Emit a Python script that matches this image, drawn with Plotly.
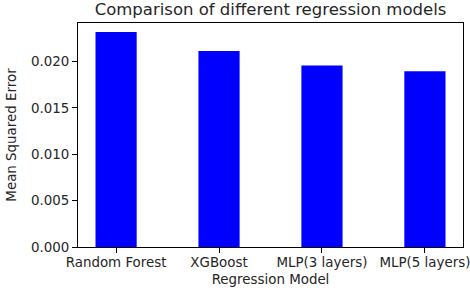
import plotly.graph_objects as go

models = ["Random Forest", "XGBoost", "MLP(3 layers)", "MLP(5 layers)"]
mse = [0.02317, 0.02112, 0.01955, 0.01893]
y_ticks = [0.000, 0.005, 0.010, 0.015, 0.020]
y_tick_labels = ["0.000", "0.005", "0.010", "0.015", "0.020"]

FONT = "DejaVu Sans"
TXT = "#262626"
TICK_SIZE = 13.4

fig = go.Figure(
    go.Bar(
        x=list(range(len(models))),
        y=mse,
        width=0.4,
        marker=dict(color="#0000ff", line=dict(width=0)),
    )
)

fig.update_layout(
    width=470,
    height=297,
    margin=dict(l=78, r=7, t=23, b=50, autoexpand=False),
    paper_bgcolor="white",
    plot_bgcolor="white",
    showlegend=False,
    font=dict(family=FONT, size=TICK_SIZE, color=TXT),
    title=dict(
        text="Comparison of different regression models",
        x=0.5,
        xref="paper",
        xanchor="center",
        y=1 - 9.5 / 297,
        yref="container",
        yanchor="middle",
        font=dict(family=FONT, size=16.5, color=TXT),
    ),
)

fig.update_xaxes(
    range=[-0.37, 3.37],
    tickmode="array",
    tickvals=list(range(len(models))),
    ticktext=models,
    ticks="outside",
    ticklen=5,
    tickcolor="black",
    showline=True,
    linecolor="black",
    linewidth=1,
    mirror=True,
    showgrid=False,
    zeroline=False,
    automargin=False,
    ticklabeloverflow="allow",
    ticklabelstandoff=-2,
    title=dict(text="Regression Model", standoff=5, font=dict(size=TICK_SIZE)),
)

fig.update_yaxes(
    range=[0, 0.02414],
    tickmode="array",
    tickvals=y_ticks,
    ticktext=y_tick_labels,
    ticks="outside",
    ticklen=5,
    tickcolor="black",
    showline=True,
    linecolor="black",
    linewidth=1,
    mirror=True,
    showgrid=False,
    zeroline=False,
    automargin=False,
    ticklabeloverflow="allow",
    title=dict(text="Mean Squared Error", standoff=11, font=dict(size=TICK_SIZE)),
)

fig.write_html(
    "out.html",
    config={"displayModeBar": False},
    post_script="document.body.style.margin='0';document.body.style.overflow='hidden';",
)
